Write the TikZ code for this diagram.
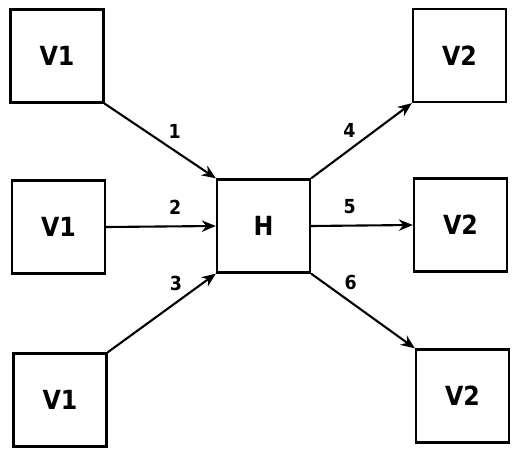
\documentclass[tikz,border=0pt]{standalone}
\usepackage{fontspec}
\setmainfont{DejaVu Sans Condensed}
\usetikzlibrary{arrows.meta}

\tikzset{
  box/.style={draw, line width=1.3pt, minimum size=1.86cm, inner sep=0pt,
    font=\bfseries\fontsize{15}{17}\selectfont},
  flow/.style={line width=1.2pt, -{Stealth[length=8pt,width=6.5pt]}},
  lab/.style={above=3pt, font=\bfseries\fontsize{11}{13}\selectfont}
}

\begin{document}
\begin{tikzpicture}
  \useasboundingbox (0,0) rectangle (10.3,9);
  %sources
  \node[box] (va) at (1.14,7.88) {V1};
  \node[box] (vb) at (1.17,4.46) {V1};
  \node[box] (vc) at (1.20,1.00) {V1};
  %hub
  \node[box] (h) at (5.27,4.48) {H};
  %sinks
  \node[box] (wa) at (9.19,7.89) {V2};
  \node[box] (wb) at (9.21,4.50) {V2};
  \node[box] (wc) at (9.25,1.08) {V2};
  %links in
  \draw[flow] (va.south east) -- node[lab, pos=0.63] {1} (h.north west);
  \draw[flow] (vb.east) -- node[lab, pos=0.63] {2} (h.west);
  \draw[flow] (vc.north east) -- node[lab, pos=0.63] {3} (h.south west);
  %links out
  \draw[flow] (h.north east) -- node[lab, pos=0.38] {4} (wa.south west);
  \draw[flow] (h.east) -- node[lab, pos=0.38] {5} (wb.west);
  \draw[flow] (h.south east) -- node[lab, pos=0.38] {6} (wc.north west);
\end{tikzpicture}
\end{document}
